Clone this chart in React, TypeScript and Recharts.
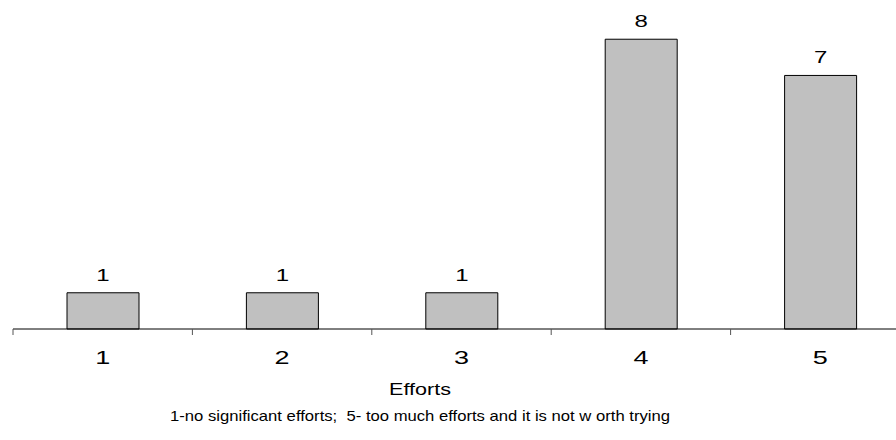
import React from "react";
import { BarChart, Bar, XAxis, YAxis, LabelList } from "recharts";

const categories = ["1", "2", "3", "4", "5"];
const counts = [1, 1, 1, 8, 7];
const axisTitle = "Efforts";
const footnote =
  "1-no significant efforts;  5- too much efforts and it is not w orth trying";

const data = categories.map((c, i) => ({ effort: c, count: counts[i] }));

const FONT = '"Liberation Sans", Arial, sans-serif';

// ticks sit between the categories, labels at their centers
function EffortTick(props: any) {
  const { x, y, payload } = props;
  const half = payload?.offset ?? 0;
  return (
    <g>
      <line x1={x - half} y1={y} x2={x - half} y2={y + 6} stroke="#555" />
      <text
        transform={`translate(${x} ${y + 35}) scale(1.5 1)`}
        textAnchor="middle"
        fontSize={18}
        fontFamily={FONT}
        fill="#000"
      >
        {payload.value}
      </text>
    </g>
  );
}

function CountLabel(props: any) {
  const { x, y, width, value } = props;
  return (
    <text
      transform={`translate(${x + width / 2} ${y - 12}) scale(1.5 1)`}
      textAnchor="middle"
      fontSize={16}
      fontFamily={FONT}
      fill="#000"
    >
      {value}
    </text>
  );
}

export default function App() {
  return (
    <div
      style={{
        position: "absolute",
        left: 0,
        top: 0,
        width: 896,
        height: 440,
        overflow: "hidden",
        background: "#fff",
      }}
    >
      <BarChart
        width={930}
        height={440}
        data={data}
        margin={{ top: 3, right: 20, bottom: 71, left: 13 }}
      >
        <YAxis hide domain={[0, 9]} />
        <XAxis
          dataKey="effort"
          height={40}
          tickLine={false}
          tickSize={0}
          tickMargin={0}
          axisLine={{ stroke: "#000" }}
          tick={<EffortTick />}
          interval={0}
        />
        <Bar
          dataKey="count"
          fill="#C0C0C0"
          stroke="#000"
          strokeWidth={1}
          barSize={72}
          isAnimationActive={false}
        >
          <LabelList dataKey="count" content={<CountLabel />} />
        </Bar>
      </BarChart>
      <svg
        width={896}
        height={440}
        style={{ position: "absolute", left: 0, top: 0, pointerEvents: "none" }}
      >
        <text
          transform="translate(420 395) scale(1.35 1)"
          textAnchor="middle"
          fontSize={16}
          fontFamily={FONT}
          fill="#000"
        >
          {axisTitle}
        </text>
        <text
          transform="translate(420 421) scale(1.19 1)"
          textAnchor="middle"
          fontSize={14}
          fontFamily={FONT}
          fill="#000"
          style={{ whiteSpace: "pre" }}
        >
          {footnote}
        </text>
      </svg>
    </div>
  );
}
